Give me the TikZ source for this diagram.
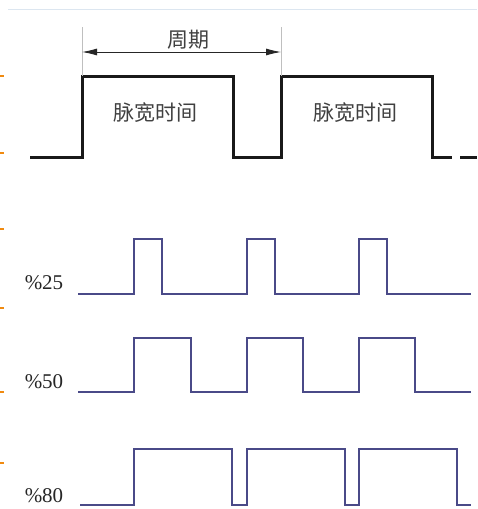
\documentclass[tikz,border=0pt]{standalone}
\usepackage{fontspec}
\setmainfont{Liberation Serif}
\newfontfamily\cjk{Noto Sans CJK SC}
\usetikzlibrary{arrows.meta}
\definecolor{wave}{HTML}{4A4A88}
\definecolor{tick}{HTML}{F08A10}
\definecolor{rule}{HTML}{DCE6F0}
\tikzset{
  bigwave/.style={line width=3pt, color=black!90, line join=miter},
  pwm/.style={line width=1.5pt, color=wave, line join=miter},
  pct/.style={font=\fontsize{21}{21}\selectfont, text=black!85, inner sep=0pt},
  cjklab/.style={font=\cjk\fontsize{21}{21}\selectfont, text=black!75, inner sep=0pt},
  ext/.style={line width=0.6pt, color=black!25},
  orangetick/.style={line width=2pt, color=tick},
}
\begin{document}
\begin{tikzpicture}[x=1pt,y=-1pt]
\useasboundingbox (0,0) rectangle (477,509);
\fill[white] (0,0) rectangle (477,509);
% top faint rule
\draw[rule, line width=0.8pt] (8,9) -- (477,9);
% orange margin ticks
\foreach \yy in {76,153,229,308,392,463}
  \draw[orangetick] (0,\yy) -- (4,\yy);
% top waveform
\draw[bigwave] (30,157) -- (82,157) -- (82,76) -- (233,76) -- (233,157) -- (281,157) -- (281,76) -- (432,76) -- (432,157) -- (452,157);
\draw[bigwave] (460,157) -- (477,157);
% period dimension
\coordinate (pA) at (82,52);
\coordinate (pB) at (281,52);
\draw[ext] (82,27) -- (82,76);
\draw[ext] (281,27) -- (281,76);
\draw[line width=0.9pt, black!85, {Latex[length=15pt,width=7pt]}-{Latex[length=15pt,width=7pt]}] (pA) -- (pB);
\node[cjklab] (zq) at (188,40) {周期};
\node[cjklab] (mk1) at (155,113) {脉宽时间};
\node[cjklab] (mk2) at (355,113) {脉宽时间};
% 25%
\node[pct] (l25) at (44,283) {\%25};
\draw[pwm] (78,294) -- (134,294) -- (134,239) -- (162,239) -- (162,294) -- (247,294) -- (247,239) -- (275,239) -- (275,294) -- (359,294) -- (359,239) -- (387,239) -- (387,294) -- (471,294);
% 50%
\node[pct] (l50) at (44,382) {\%50};
\draw[pwm] (78,392) -- (134,392) -- (134,338) -- (191,338) -- (191,392) -- (247,392) -- (247,338) -- (303,338) -- (303,392) -- (359,392) -- (359,338) -- (415,338) -- (415,392) -- (471,392);
% 80%
\node[pct] (l80) at (44,496) {\%80};
\draw[pwm] (80,505) -- (134,505) -- (134,449) -- (232,449) -- (232,505) -- (247,505) -- (247,449) -- (345,449) -- (345,505) -- (359,505) -- (359,449) -- (457,449) -- (457,505) -- (471,505);
\end{tikzpicture}
\end{document}
